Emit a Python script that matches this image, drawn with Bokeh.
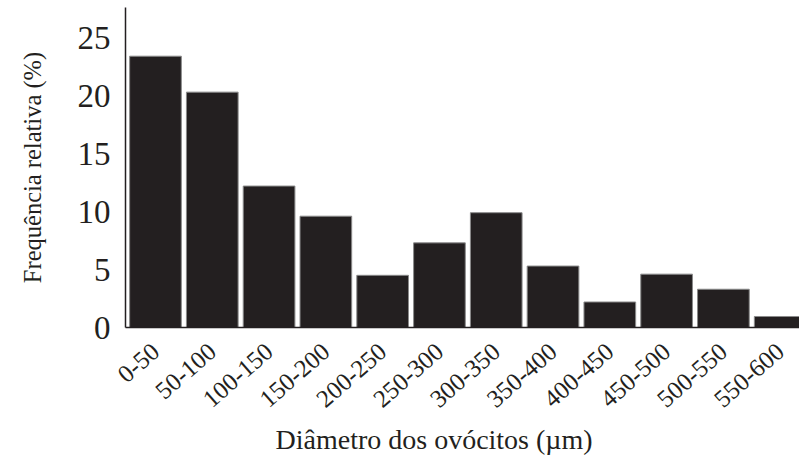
from bokeh.plotting import figure
from bokeh.models import ColumnDataSource, FixedTicker, Range1d, Title
from bokeh.embed import file_html
from bokeh.resources import INLINE

categories = ["0-50", "50-100", "100-150", "150-200", "200-250", "250-300",
              "300-350", "350-400", "400-450", "450-500", "500-550", "550-600"]
frequencia = [23.4, 20.3, 12.2, 9.6, 4.5, 7.3, 9.9, 5.3, 2.2, 4.6, 3.3, 0.95]
y_ticks = [0, 5, 10, 15, 20, 25]
x_title = "Diâmetro dos ovócitos (µm)"
y_title = "Frequência relativa (%)"

positions = list(range(len(categories)))
source = ColumnDataSource(data=dict(x=positions, top=frequencia, cat=categories))

FONT = "Liberation Serif"
INK = "#231f20"

p = figure(width=799, height=457, output_backend="svg", toolbar_location=None,
           x_range=Range1d(-0.528, 11.34), y_range=Range1d(0, 27.6),
           min_border_left=125, min_border_right=0, min_border_top=7,
           min_border_bottom=129)

p.vbar(x="x", top="top", bottom=0, width=0.91, source=source,
       fill_color=INK, line_color="#8a8a8a", line_width=1)

p.outline_line_color = None
p.grid.grid_line_color = None
p.background_fill_color = "white"

# x axis
p.xaxis.ticker = FixedTicker(ticks=positions)
p.xaxis.major_label_overrides = {i: c for i, c in zip(positions, categories)}
p.xaxis.major_label_orientation = 0.72
p.xaxis.major_tick_line_color = None
p.xaxis.minor_tick_line_color = None
p.xaxis.major_label_standoff = 14
p.xaxis.major_label_text_font = FONT
p.xaxis.major_label_text_font_size = "25px"
p.xaxis.major_label_text_color = INK
p.xaxis.axis_line_color = INK
p.xaxis.axis_line_width = 1.5

p.add_layout(Title(text=x_title, align="left", offset=150, standoff=6,
                   text_font=FONT, text_font_size="28px",
                   text_font_style="normal", text_color=INK), "below")

# y axis
p.yaxis.ticker = FixedTicker(ticks=y_ticks)
p.yaxis.major_tick_line_color = None
p.yaxis.minor_tick_line_color = None
p.yaxis.major_label_standoff = 9
p.yaxis.major_label_text_font = FONT
p.yaxis.major_label_text_font_size = "33px"
p.yaxis.major_label_text_color = INK
p.yaxis.axis_label = y_title
p.yaxis.axis_label_text_font = FONT
p.yaxis.axis_label_text_font_size = "24.5px"
p.yaxis.axis_label_text_font_style = "normal"
p.yaxis.axis_label_text_color = INK
p.yaxis.axis_label_standoff = 29
p.yaxis.axis_line_color = INK
p.yaxis.axis_line_width = 1.5

open("out.html", "w").write(file_html(p, INLINE))
